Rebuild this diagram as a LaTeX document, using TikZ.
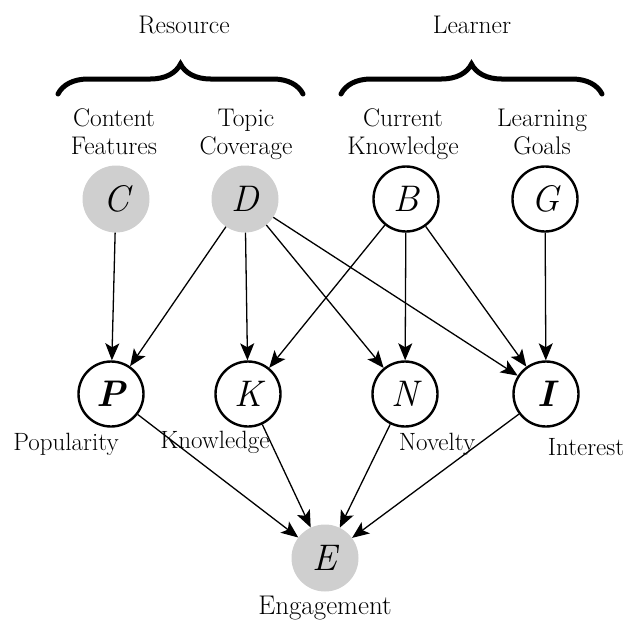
\documentclass[tikz,border=0pt]{standalone}
\usepackage{fontspec}
\usetikzlibrary{arrows.meta,decorations.pathreplacing}
\definecolor{shade}{RGB}{207,207,207}
\tikzset{
  var/.style={circle, inner sep=0pt, font=\fontsize{37}{40}\selectfont\itshape},
  obs/.style={var, minimum size=67pt, fill=shade},
  lat/.style={var, minimum size=65pt, draw=black, line width=2.4pt, fill=white},
  edge/.style={line width=1.3pt, -{Stealth[length=17pt,width=14pt,inset=4pt]}},
  grouplbl/.style={font=\fontsize{25.5}{28}\selectfont, anchor=base},
  toplbl/.style={font=\fontsize{25.5}{27.5}\selectfont, align=center, anchor=base},
  lbl/.style={font=\fontsize{25}{28}\selectfont, anchor=base},
  bracket/.style={decorate, decoration={brace, amplitude=30pt}, line width=5pt, line cap=round}
}
\begin{document}
\begin{tikzpicture}[x=1pt, y=-1pt]
\useasboundingbox (0,0) rectangle (624,621);

% group headings and braces
\node[grouplbl] (res) at (184,33) {Resource};
\node[grouplbl] (lea) at (472,33) {Learner};
\coordinate (rl) at (58,94);
\coordinate (rr) at (303,94);
\coordinate (ll) at (341,94);
\coordinate (lr) at (602,94);
\draw[bracket] (rl) -- (rr);
\draw[bracket] (ll) -- (lr);

% variable descriptions (anchored on the baseline of the last line)
\node[toplbl] (tC) at (114,154) {Content\\Features};
\node[toplbl] (tD) at (246,154) {Topic\\Coverage};
\node[toplbl] (tB) at (403,154) {Current\\Knowledge};
\node[toplbl] (tG) at (542,154) {Learning\\Goals};

% variables
\node[obs] (C) at (116,199) {C};
\node[obs] (D) at (245,199) {D};
\node[lat] (B) at (406,199) {B};
\node[lat] (G) at (545,199) {G};

\node[lat] (P) at (111,394) {\bfseries P};
\node[lat] (K) at (248,394) {K};
\node[lat] (N) at (405,394) {N};
\node[lat] (I) at (546,394) {\bfseries I};

\node[obs] (E) at (325,558) {E};

% variable names
\node[lbl] (lP) at (66,450) {Popularity};
\node[lbl] (lK) at (215,448) {Knowledge};
\node[lbl] (lN) at (437,450) {Novelty};
\node[lbl] (lI) at (586,455) {Interest};
\node[font=\fontsize{27}{30}\selectfont, anchor=base] (lE) at (325,614) {Engagement};

% dependencies
\draw[edge] (C) -- (P);
\draw[edge] (D) -- (P);
\draw[edge] (D) -- (K);
\draw[edge] (D) -- (N);
\draw[edge] (D) -- (I);
\draw[edge] (B) -- (K);
\draw[edge] (B) -- (N);
\draw[edge] (B) -- (I);
\draw[edge] (G) -- (I);
\draw[edge] (P) -- (E);
\draw[edge] (K) -- (E);
\draw[edge] (N) -- (E);
\draw[edge] (I) -- (E);
\end{tikzpicture}
\end{document}
